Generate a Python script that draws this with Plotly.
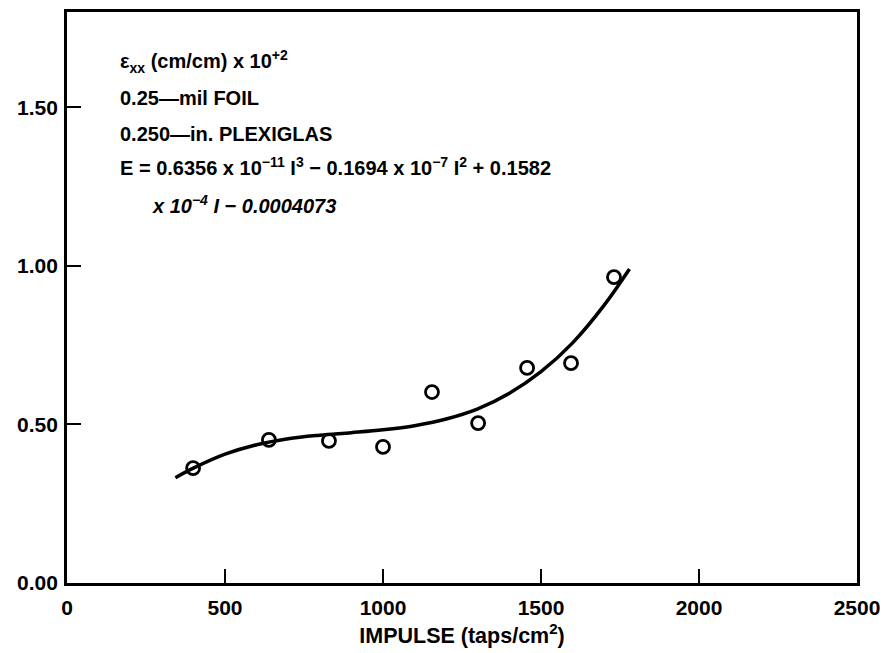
import plotly.graph_objects as go

# Measured data points (impulse, strain x 10^2)
impulse_pts = [399, 639, 829, 1000, 1155, 1301, 1456, 1595, 1731]
strain_pts = [0.362, 0.451, 0.448, 0.429, 0.602, 0.504, 0.678, 0.693, 0.964]

# Fitted curve
curve_impulse = [343, 400, 500, 600, 700, 800, 900, 1000, 1100, 1200, 1300, 1400, 1500, 1600, 1700, 1780]
curve_strain = [0.332, 0.362, 0.406, 0.436, 0.455, 0.466, 0.474, 0.483, 0.496, 0.517, 0.549, 0.598, 0.666, 0.757, 0.876, 0.990]

x_ticks = [0, 500, 1000, 1500, 2000, 2500]
y_ticks = [0.0, 0.5, 1.0, 1.5]

FONT = "Liberation Sans"

fig = go.Figure()
fig.add_trace(go.Scatter(
    x=curve_impulse, y=curve_strain, mode="lines",
    line=dict(color="black", width=3.5, shape="spline"),
    showlegend=False, hoverinfo="skip"))
fig.add_trace(go.Scatter(
    x=impulse_pts, y=strain_pts, mode="markers",
    marker=dict(symbol="circle-open", size=13, color="black",
                line=dict(width=2.8, color="black")),
    showlegend=False))

axis_common = dict(showline=True, linewidth=2.8, linecolor="black", mirror=True,
                   ticks="inside", ticklen=14, tickwidth=2, tickcolor="black",
                   showgrid=False, zeroline=False, automargin=False,
                   tickfont=dict(family=FONT, size=21, color="black"))

fig.update_xaxes(range=[0, 2500], tickvals=x_ticks,
                 ticktext=[f"<b>{v}</b>" for v in x_ticks],
                 ticklabelstandoff=4, ticklabeloverflow="allow",
                 title=dict(text="<b>IMPULSE (taps/cm<sup>2</sup>)</b>", standoff=10,
                            font=dict(family=FONT, size=21.5, color="black")),
                 **axis_common)
fig.update_yaxes(range=[0, 1.8], tickvals=y_ticks,
                 ticktext=[f"<b>{v:.2f}</b>" for v in y_ticks],
                 ticklabelstandoff=2,
                 **axis_common)

lines = [
    ("ε<sub>xx</sub> (cm/cm) x 10<sup>+2</sup>", 0.0646, 0.913),
    ("0.25—mil FOIL", 0.0646, 0.849),
    ("0.250—in. PLEXIGLAS", 0.0646, 0.786),
    ("E = 0.6356 x 10<sup>−11</sup> I<sup>3</sup> − 0.1694 x 10<sup>−7</sup> I<sup>2</sup> + 0.1582", 0.0646, 0.730),
    ("<i>x 10<sup>−4</sup> I − 0.0004073</i>", 0.105, 0.663),
]
for txt, xp, yp in lines:
    fig.add_annotation(text=f"<b>{txt}</b>", xref="paper", yref="paper", x=xp, y=yp,
                       xanchor="left", yanchor="middle", showarrow=False,
                       font=dict(family=FONT, size=20, color="black"))

fig.update_layout(
    width=886, height=653,
    margin=dict(l=67, r=29, t=12, b=70),
    paper_bgcolor="white", plot_bgcolor="white",
    font=dict(family=FONT, color="black", size=20),
)

fig.write_html("out.html", config={"displayModeBar": False},
               post_script="document.body.style.margin='0';document.body.style.overflow='hidden';")
